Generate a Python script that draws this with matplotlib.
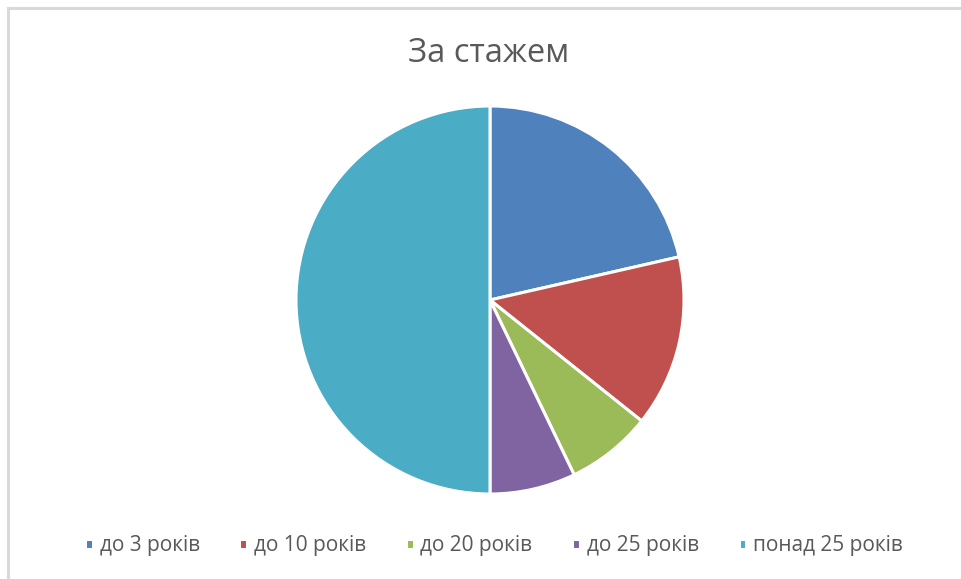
import matplotlib
matplotlib.use("Agg")
import matplotlib.pyplot as plt
from matplotlib.patches import Rectangle

# data
labels = ["до 3 років", "до 10 років", "до 20 років", "до 25 років", "понад 25 років"]
values = [3, 2, 1, 1, 7]
colors = ["#4F81BD", "#C0504D", "#9BBB59", "#8064A2", "#4BACC6"]
title = "За стажем"

plt.rcParams['font.family'] = ['Open Sans', 'DejaVu Sans']

fig = plt.figure(figsize=(9.62, 5.79), dpi=100)

# chart area border (light gray, runs off the right/bottom edges)
fig.patches.append(Rectangle((8 / 962, -0.1), 1.2, 1 - 8 / 579 + 0.1,
                             transform=fig.transFigure, fill=False,
                             edgecolor="#D9D9D9", linewidth=2.2))

ax = fig.add_axes([(490 - 194) / 962, (579 - 300 - 194) / 579, 388 / 962, 388 / 579])
wedges, _ = ax.pie(values, colors=colors, startangle=90, counterclock=False,
                   radius=1.0, wedgeprops=dict(edgecolor="white", linewidth=2.2))
ax.set_xlim(-1.0, 1.0)
ax.set_ylim(-1.0, 1.0)
ax.set_aspect("equal")
ax.axis("off")

fig.text(489 / 962, 1 - 54 / 579, title, ha="center", va="center",
         fontsize=23.5, color="#595959")

fig.legend(wedges, labels, loc="center", bbox_to_anchor=(494 / 962, 1 - 546 / 579),
           ncol=5, frameon=False, fontsize=15, handlelength=0.38, handleheight=0.38,
           handletextpad=0.32, columnspacing=1.9, labelcolor="#595959")

fig.savefig("out.png", dpi=100)
